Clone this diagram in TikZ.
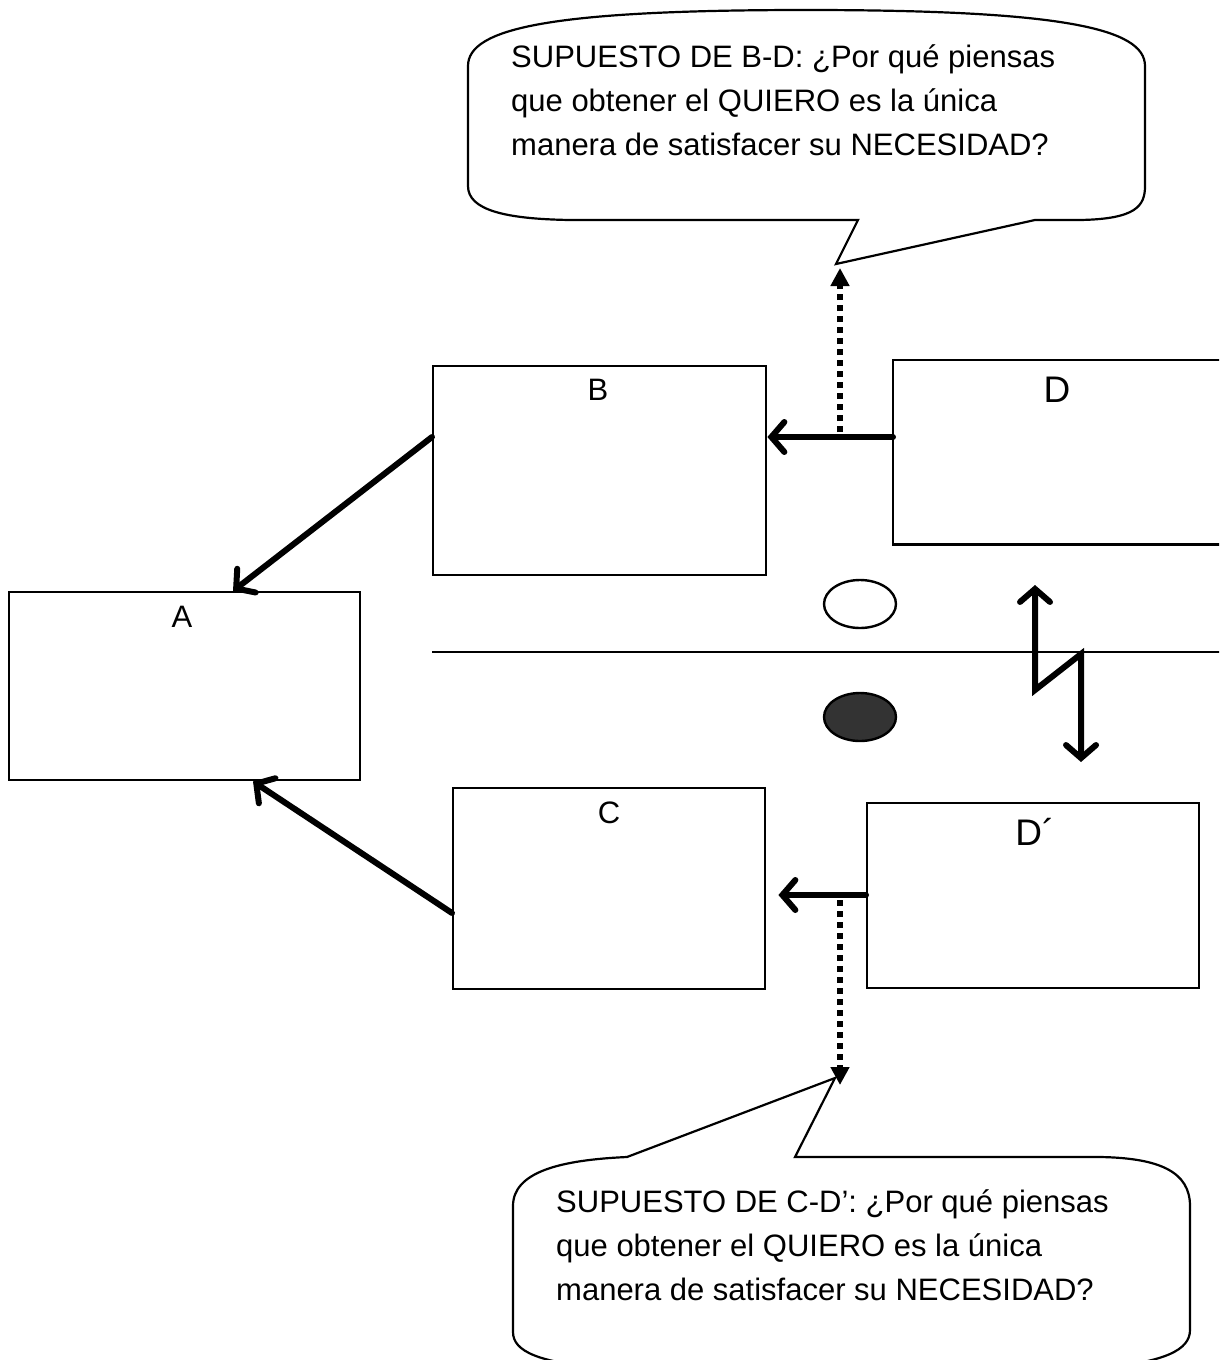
\documentclass[tikz,border=0pt]{standalone}
\usepackage{fontspec}
\setmainfont{Liberation Sans}
\usetikzlibrary{arrows.meta,shapes.geometric}
\begin{document}
\begin{tikzpicture}[x=1pt,y=-1pt,
  box/.style={draw, line width=2.4pt, anchor=north west, inner sep=0pt},
  openbox/.style={anchor=north west, inner sep=0pt},
  lbl/.style={inner sep=0pt, font=\fontsize{31pt}{35pt}\selectfont},
  biglbl/.style={inner sep=0pt, font=\fontsize{37pt}{42pt}\selectfont},
  barb/.tip={Straight Barb[length=13pt, width=30pt, line width=6pt, line cap=round]},
  flow/.style={line width=6pt, line cap=round, line join=round, -barb},
  zigzag/.style={line width=6pt, line join=miter, barb-barb},
  dots/.style={line width=6pt, dash pattern=on 6pt off 5pt,
    -{Triangle[length=18pt, width=18pt]}},
  callout/.style={draw, line width=2.2pt, line join=miter},
  calltext/.style={anchor=north west, inner sep=0pt, align=left,
    font=\fontsize{31pt}{44pt}\selectfont},
  bubble/.style={ellipse, draw, line width=2.4pt, minimum width=72pt, minimum height=48pt, inner sep=0pt}
]
\useasboundingbox (0,0) rectangle (1219,1360);
\clip (0,0) rectangle (1219,1360);

% boxes
\node[box, minimum width=351pt, minimum height=188pt] (A) at (8,591) {};
\node[box, minimum width=333pt, minimum height=209pt] (B) at (432,365) {};
\node[box, minimum width=312pt, minimum height=201pt] (C) at (452,787) {};
\node[openbox, minimum width=340pt, minimum height=184pt] (D) at (893,360) {};
\draw[line width=2.4pt] (D.north east) -- (D.north west) -- (D.south west) -- (D.south east);
\node[box, minimum width=332pt, minimum height=185pt] (Dp) at (866,802) {};

% box labels
\node[lbl] (Alabel) at (182,617) {A};
\node[lbl] (Blabel) at (598,390) {B};
\node[lbl] (Clabel) at (609,813) {C};
\node[biglbl] (Dlabel) at (1057,390) {D};
\node[biglbl] (Dplabel) at (1035,832) {D´};

% ovals on either side of the dividing line
\node[bubble] (white) at (860,604) {};
\node[bubble, fill=black!80] (dark) at (860,717) {};

% dividing line
\coordinate (lineL) at (432,652);
\coordinate (lineR) at (1225,652);
\draw[line width=2.6pt] (lineL) -- (lineR);

% zigzag double arrow across the line
\coordinate (zzTop) at (1035,585);
\coordinate (zzL) at (1035,690);
\coordinate (zzR) at (1081,654);
\coordinate (zzBot) at (1081,762);
\draw[zigzag] (zzTop) -- (zzL) -- (zzR) -- (zzBot);

% top callout
\coordinate (tipT) at (836,264);
\draw[callout] (468,66) -- (468,186) .. controls (468,210) and (505,219) .. (570,220)
  -- (858,220) -- (tipT) -- (1035,220) -- (1080,220)
  .. controls (1136,219) and (1145,206) .. (1145,186) -- (1145,66)
  .. controls (1145,28) and (1060,10) .. (806,10)
  .. controls (552,10) and (468,28) .. cycle;
\node[calltext] (qT) at (511,44) {SUPUESTO DE B-D: ¿Por qué piensas\\que obtener el QUIERO es la única\\manera de satisfacer su NECESIDAD?};

% bottom callout
\coordinate (tipB) at (835,1078);
\draw[callout] (513,1206) -- (513,1332) .. controls (513,1352) and (540,1362) .. (600,1368)
  -- (1100,1368) .. controls (1165,1362) and (1190,1350) .. (1190,1330) -- (1190,1206)
  .. controls (1190,1172) and (1160,1158) .. (1100,1157) -- (795,1157) -- (tipB)
  -- (627,1157) .. controls (560,1160) and (513,1172) .. cycle;
\node[calltext] (qB) at (556,1189) {SUPUESTO DE C-D’: ¿Por qué piensas\\que obtener el QUIERO es la única\\manera de satisfacer su NECESIDAD?};

% connectors
\draw[flow] ([yshift=-77pt]D.north west) -- ([yshift=-72pt]B.north east);
\draw[flow] ([yshift=-72pt]B.north west) -- ([xshift=225pt]A.north west);
\draw[flow] ([yshift=-126pt]C.north west) -- ([xshift=245pt]A.south west);
\draw[flow] ([yshift=-93pt]Dp.north west) -- ([xshift=12pt,yshift=-108pt]C.north east);

% dotted arrows to the callouts
\coordinate (dTstart) at (840,432);
\coordinate (dTend) at (840,268);
\draw[dots] (dTstart) -- (dTend);
\coordinate (dBstart) at (840,900);
\coordinate (dBend) at (840,1085);
\draw[dots] (dBstart) -- (dBend);
\end{tikzpicture}
\end{document}
